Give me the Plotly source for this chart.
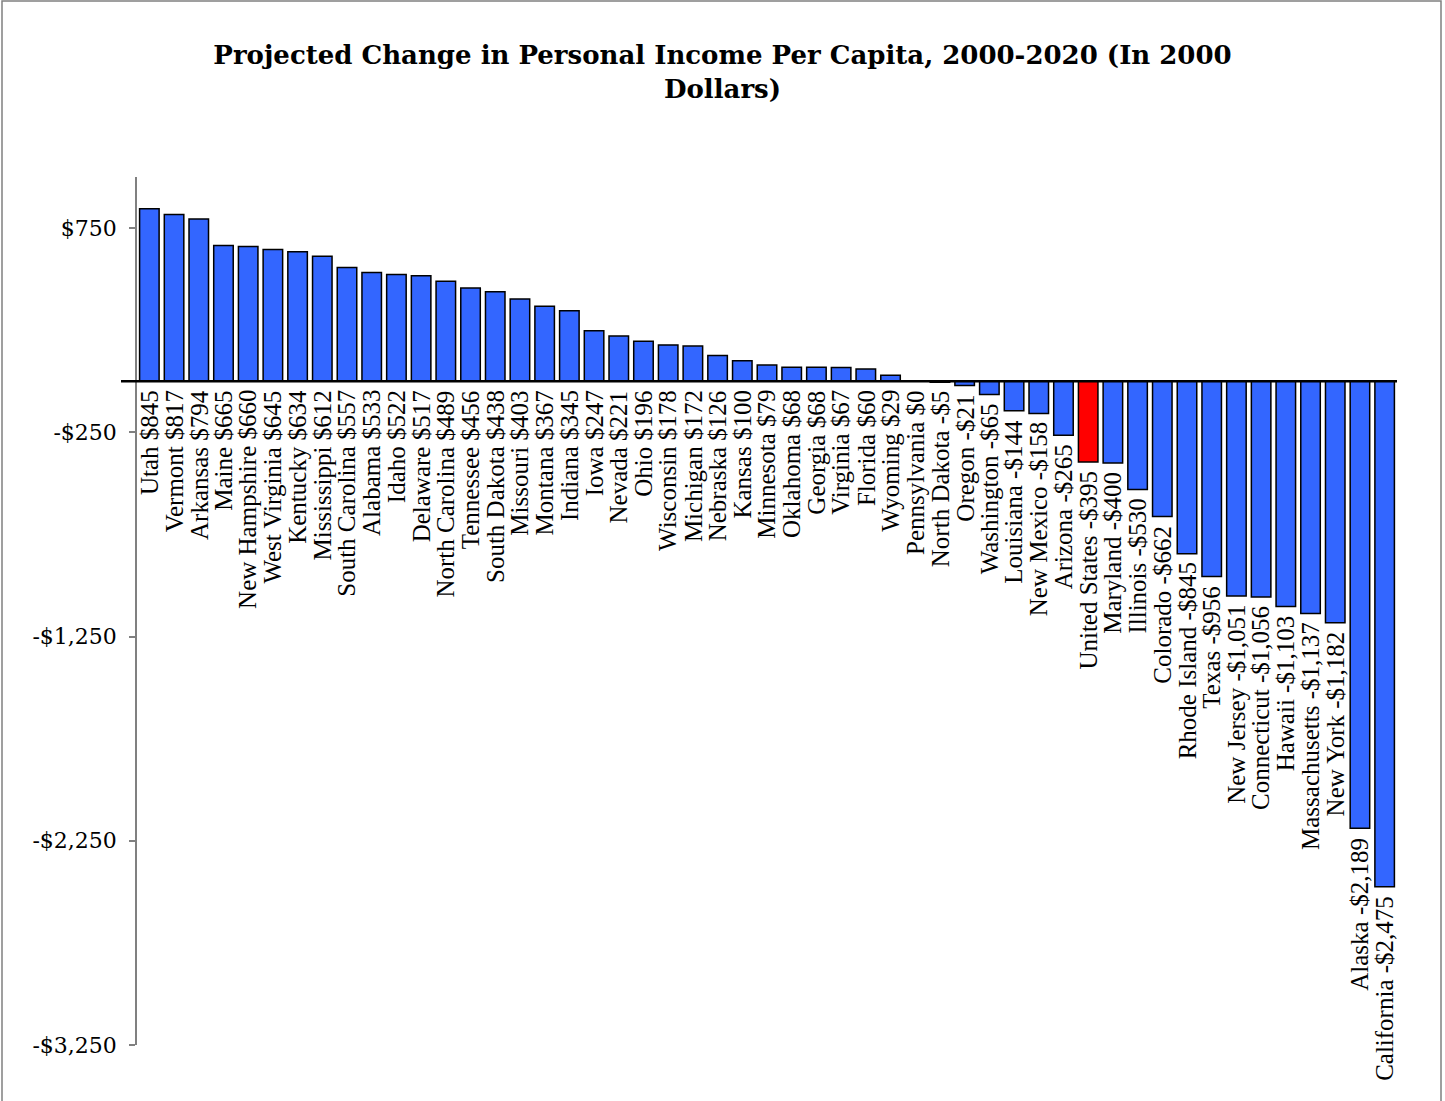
import plotly.graph_objects as go

# Projected change in per-capita personal income, 2000-2020 (2000 dollars)
states = [
    "Utah", "Vermont", "Arkansas", "Maine", "New Hampshire", "West Virginia",
    "Kentucky", "Mississippi", "South Carolina", "Alabama", "Idaho", "Delaware",
    "North Carolina", "Tennessee", "South Dakota", "Missouri", "Montana", "Indiana",
    "Iowa", "Nevada", "Ohio", "Wisconsin", "Michigan", "Nebraska", "Kansas",
    "Minnesota", "Oklahoma", "Georgia", "Virginia", "Florida", "Wyoming",
    "Pennsylvania", "North Dakota", "Oregon", "Washington", "Louisiana",
    "New Mexico", "Arizona", "United States", "Maryland", "Illinois", "Colorado",
    "Rhode Island", "Texas", "New Jersey", "Connecticut", "Hawaii",
    "Massachusetts", "New York", "Alaska", "California",
]
change = [
    845, 817, 794, 665, 660, 645,
    634, 612, 557, 533, 522, 517,
    489, 456, 438, 403, 367, 345,
    247, 221, 196, 178, 172, 126, 100,
    79, 68, 68, 67, 60, 29,
    0, -5, -21, -65, -144,
    -158, -265, -395, -400, -530, -662,
    -845, -956, -1051, -1056, -1103,
    -1137, -1182, -2189, -2475,
]
tick_values = [750, -250, -1250, -2250, -3250]
tick_labels = ["$750", "-$250", "-$1,250", "-$2,250", "-$3,250"]
highlight = "United States"

W, H = 1445, 1101
ML, MR, MT, MB = 137, 48, 177, 56
plot_w = W - ML - MR
plot_h = H - MT - MB

colors = ["#FF0000" if s == highlight else "#3366FF" for s in states]


def money(v):
    sign = "-" if v < 0 else ""
    return f"{sign}${abs(v):,}"


fig = go.Figure(
    go.Bar(
        x=states,
        y=change,
        marker=dict(color=colors, line=dict(color="black", width=1.5)),
        hoverinfo="x+y",
    )
)

label_font = dict(family="Liberation Serif, Times New Roman, serif", size=25, color="black")
annotations = []
for s, v in zip(states, change):
    annotations.append(
        dict(
            x=s,
            y=min(v, 0),
            xref="x",
            yref="y",
            text=f"{s} {money(v)}",
            textangle=-90,
            showarrow=False,
            xanchor="center",
            yanchor="top",
            yshift=-7,
            font=label_font,
        )
    )


def px_to_paper_x(px):
    return (px - ML) / plot_w


def px_to_paper_y(py):
    return (H - MB - py) / plot_h


shapes = [
    # outer frame
    dict(
        type="rect", xref="paper", yref="paper",
        x0=px_to_paper_x(2), x1=px_to_paper_x(1441),
        y0=px_to_paper_y(1110), y1=px_to_paper_y(1),
        line=dict(color="#808080", width=1.5), fillcolor="rgba(0,0,0,0)",
        layer="below",
    ),
    # baseline at zero
    dict(
        type="line", xref="paper", yref="y",
        x0=px_to_paper_x(121), x1=1, y0=0, y1=0,
        line=dict(color="black", width=2.5), layer="above",
    ),
]

fig.update_layout(
    width=W,
    height=H,
    margin=dict(l=ML, r=MR, t=MT, b=MB),
    paper_bgcolor="white",
    plot_bgcolor="white",
    showlegend=False,
    bargap=0.21,
    title=dict(
        text="Projected Change in Personal Income Per Capita, 2000-2020 (In 2000<br>Dollars)",
        x=0.5,
        xanchor="center",
        xref="container",
        y=1 - 64 / H,
        yanchor="middle",
        yref="container",
        font=dict(family="DejaVu Serif, serif", size=26, color="black", weight="bold"),
    ),
    xaxis=dict(
        type="category",
        range=[-0.5, len(states) - 0.5],
        showticklabels=False,
        showline=False,
        showgrid=False,
        zeroline=False,
        ticks="",
        fixedrange=True,
    ),
    yaxis=dict(
        range=[-3250, 1000],
        tickvals=tick_values,
        ticktext=tick_labels,
        showline=True,
        linecolor="#808080",
        linewidth=1.5,
        ticks="outside",
        ticklen=6,
        tickcolor="#808080",
        tickwidth=1.5,
        showgrid=False,
        zeroline=False,
        ticklabelstandoff=8,
        tickfont=dict(family="DejaVu Serif, serif", size=22, color="black"),
        fixedrange=True,
    ),
    annotations=annotations,
    shapes=shapes,
)

fig.write_html("out.html")
